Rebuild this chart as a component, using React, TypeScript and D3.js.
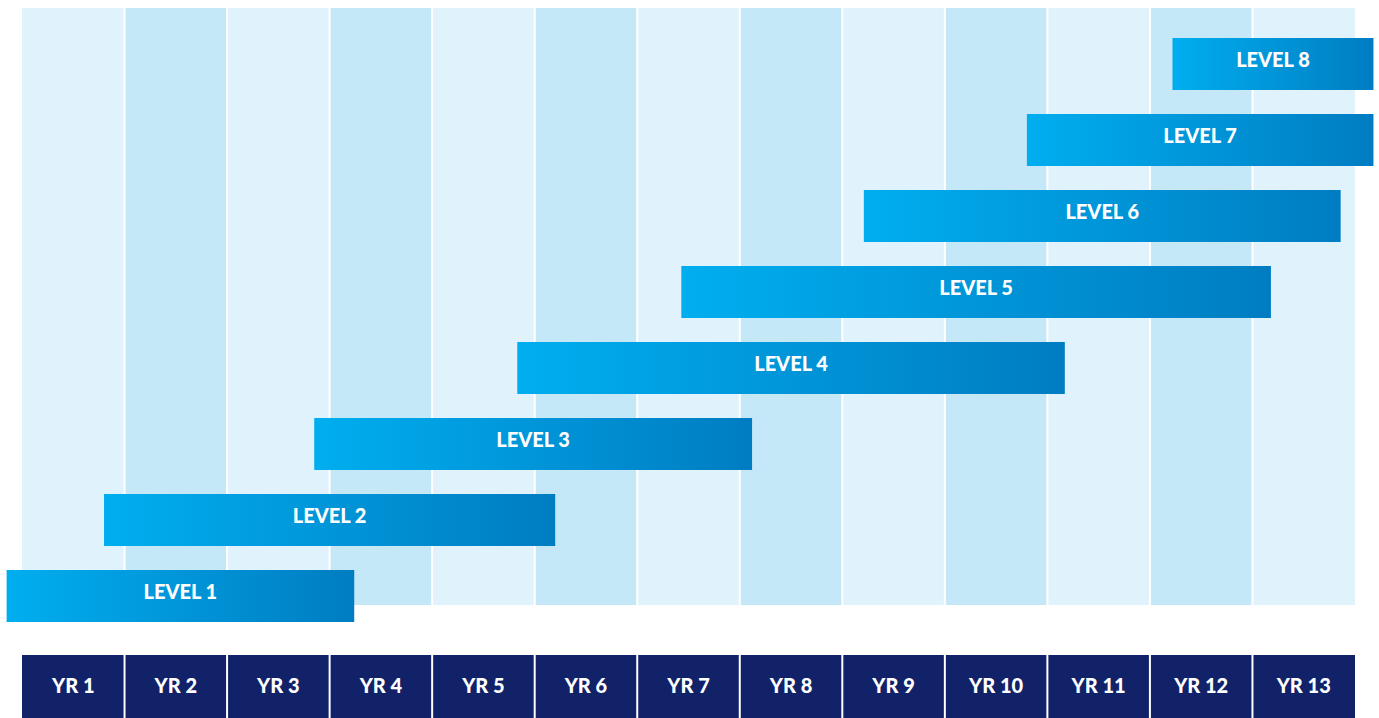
import React, { useEffect, useRef } from 'react';
import * as d3 from 'd3';

// year columns along the bottom
const years = ['YR 1', 'YR 2', 'YR 3', 'YR 4', 'YR 5', 'YR 6', 'YR 7', 'YR 8', 'YR 9', 'YR 10', 'YR 11', 'YR 12', 'YR 13'];

// levels and their span, in years from the left edge of YR 1
const levels = ['LEVEL 1', 'LEVEL 2', 'LEVEL 3', 'LEVEL 4', 'LEVEL 5', 'LEVEL 6', 'LEVEL 7', 'LEVEL 8'];
const levelStart = [-0.15, 0.8, 2.85, 4.83, 6.43, 8.21, 9.8, 11.22];
const levelEnd = [3.24, 5.2, 7.12, 10.17, 12.18, 12.86, 13.18, 13.18];

const App: React.FC = () => {
  const svgRef = useRef<SVGSVGElement | null>(null);

  useEffect(() => {
    if (!svgRef.current) return;
    const svg = d3.select(svgRef.current);
    svg.selectAll('*').remove();

    const width = 1379;
    const height = 718;
    const font = 'Lato, "Open Sans", sans-serif';

    const x = d3.scaleLinear().domain([0, years.length]).range([22, 1355]);
    const y = d3.scaleBand<string>()
      .domain(levels.slice().reverse())
      .range([38, 622])
      .paddingInner(24 / 76)
      .paddingOuter(0);

    svg.attr('width', width).attr('height', height);

    // gradient for the bars
    const defs = svg.append('defs');
    const grad = defs.append('linearGradient')
      .attr('id', 'barGrad')
      .attr('x1', '0%').attr('x2', '100%')
      .attr('y1', '0%').attr('y2', '0%');
    grad.append('stop').attr('offset', '0%').attr('stop-color', '#00aeef');
    grad.append('stop').attr('offset', '100%').attr('stop-color', '#007dc2');

    // column backgrounds
    svg.append('g')
      .selectAll('rect')
      .data(years)
      .enter()
      .append('rect')
      .attr('x', (_d, i) => x(i) + (i === 0 ? 0 : 1))
      .attr('y', 8)
      .attr('width', (_d, i) => x(i + 1) - x(i) - (i === 0 || i === years.length - 1 ? 1 : 2))
      .attr('height', 597)
      .attr('fill', (_d, i) => (i % 2 === 0 ? '#e0f2fc' : '#c5e8f8'));

    // bars
    const bars = svg.append('g')
      .selectAll('g')
      .data(levels)
      .enter()
      .append('g');

    bars.append('rect')
      .attr('x', (_d, i) => x(levelStart[i]))
      .attr('y', d => y(d) || 0)
      .attr('width', (_d, i) => x(levelEnd[i]) - x(levelStart[i]))
      .attr('height', y.bandwidth())
      .attr('fill', 'url(#barGrad)');

    bars.append('text')
      .attr('x', (_d, i) => (x(levelStart[i]) + x(levelEnd[i])) / 2)
      .attr('y', d => (y(d) || 0) + y.bandwidth() / 2 + 3)
      .attr('text-anchor', 'middle')
      .attr('fill', '#ffffff')
      .style('font-family', font)
      .style('font-weight', 900)
      .style('font-size', '20px')
      .text(d => d);

    // year labels
    const yr = svg.append('g')
      .selectAll('g')
      .data(years)
      .enter()
      .append('g');

    yr.append('rect')
      .attr('x', (_d, i) => x(i) + (i === 0 ? 0 : 1))
      .attr('y', 655)
      .attr('width', (_d, i) => x(i + 1) - x(i) - (i === 0 || i === years.length - 1 ? 1 : 2))
      .attr('height', 63)
      .attr('fill', '#122268');

    yr.append('text')
      .attr('x', (_d, i) => (x(i) + x(i + 1)) / 2)
      .attr('y', 693)
      .attr('text-anchor', 'middle')
      .attr('fill', '#ffffff')
      .style('font-family', font)
      .style('font-weight', 900)
      .style('font-size', '20px')
      .text(d => d);
  }, []);

  return (
    <svg
      ref={svgRef}
      style={{ position: 'absolute', left: 0, top: 0, display: 'block' }}
    />
  );
};

export default App;
